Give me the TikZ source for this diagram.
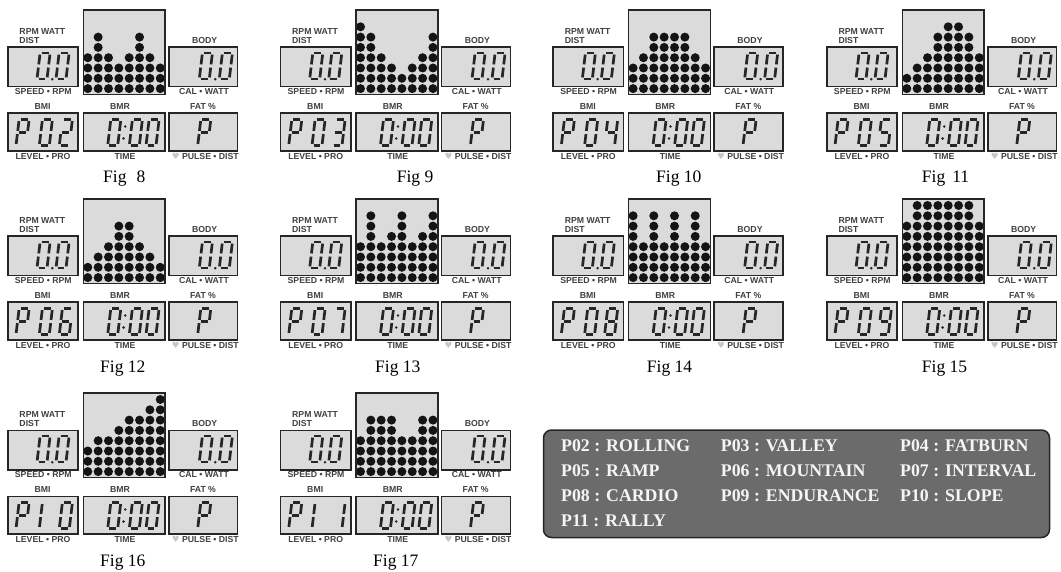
\documentclass[tikz,border=0pt]{standalone}
\usepackage{fontspec}
\setmainfont{Liberation Serif}
\newfontfamily\labfont{Liberation Sans}
\newfontfamily\symfont{DejaVu Sans}
\tikzset{
  lcd/.style={draw=black!85, line width=1.6pt, fill=black!14},
  seg/.style={line width=2.7pt, draw=black!85},
  dotm/.style={fill=black!92},
  lab/.style={font=\labfont\bfseries\fontsize{8.7}{8.7}\selectfont, text=black!75, inner sep=0pt},
  figcap/.style={font=\fontsize{17.5}{17.5}\selectfont, inner sep=0pt, anchor=base west},
  leg/.style={font=\bfseries\fontsize{17.8}{17.8}\selectfont, text=black!4, inner sep=0pt, anchor=base west},
  legbox/.style={draw=black!85, line width=1.5pt, fill=black!58, rounded corners=8pt},
}
\newcommand\sgA{\draw[seg] (1.6,26)--(8.4,26);}
\newcommand\sgB{\draw[seg] (10,24.4)--(10,14.6);}
\newcommand\sgC{\draw[seg] (10,11.4)--(10,1.6);}
\newcommand\sgD{\draw[seg] (1.6,0)--(8.4,0);}
\newcommand\sgE{\draw[seg] (0,1.6)--(0,11.4);}
\newcommand\sgF{\draw[seg] (0,14.6)--(0,24.4);}
\newcommand\sgG{\draw[seg] (1.6,13)--(8.4,13);}
\newcommand\dig[3]{\begin{scope}[shift={(#1,#2)},x={(1pt,0pt)},y={(0.12pt,1pt)}]\foreach \s in {#3}{\csname sg\s\endcsname}\end{scope}}
\newcommand\panel[8]{%
\begin{scope}[shift={(#1,#2)}]
  \draw[lcd] (7.9,47.3) rectangle (78.1,86.7);
  \draw[lcd] (168.9,47.3) rectangle (237.6,86.7);
  \draw[lcd] (7.9,113.3) rectangle (78.1,151.1);
  \draw[lcd] (83.3,113.3) rectangle (165.1,151.1);
  \draw[lcd] (168.9,113.3) rectangle (237.6,151.1);
  \draw[lcd] (83.3,9.9) rectangle (165.1,94.4);
  \begin{scope}
    \clip (83.3,9.9) rectangle (165.1,94.4);
    \foreach \h [count=\i from 0] in {#4}{\foreach \j in {1,...,\h}{\fill[dotm] ({87.8+10.35*\i},{88.6-10.3*(\j-1)}) circle (4.5pt);}}
  \end{scope}
  \draw[draw=black!85, line width=1.6pt] (83.3,9.9) rectangle (165.1,94.4);
  \node[lab, anchor=west] (#3rpm) at (19.3,31.7) {RPM WATT};
  \node[lab, anchor=west] (#3dist) at (19.3,40.7) {DIST};
  \node[lab] (#3body) at (204.7,40.7) {BODY};
  \node[lab] (#3spd) at (43.3,91.4) {SPEED • RPM};
  \node[lab] (#3cal) at (204,91.4) {CAL • WATT};
  \node[lab] (#3bmi) at (42.5,106.9) {BMI};
  \node[lab] (#3bmr) at (120,106.9) {BMR};
  \node[lab] (#3fat) at (203,106.9) {FAT \%};
  \node[lab] (#3lvl) at (43,156.2) {LEVEL • PRO};
  \node[lab] (#3time) at (125,156.2) {TIME};
  \node[lab] (#3pulse) at (205.3,156.2) {{\symfont\color{black!22}♥} PULSE • DIST};
  \dig{37}{79}{A,B,C,D,E,F}\fill[black!85] (52.3,79.2) circle (1.4pt);\dig{56}{79}{A,B,C,D,E,F}
  \dig{199.3}{79}{A,B,C,D,E,F}\fill[black!85] (215.3,79.2) circle (1.4pt);\dig{219.3}{79}{A,B,C,D,E,F}
  \dig{16}{145.5}{A,B,F,G,E}\dig{39.3}{145.5}{#5}\dig{59.3}{145.5}{#6}
  \dig{107.7}{145.5}{A,B,C,D,E,F}
  \fill[black!85] (125.2,126.5) circle (1.4pt) (123.6,138.5) circle (1.4pt);
  \dig{129.3}{145.5}{A,B,C,D,E,F}\dig{146}{145.5}{A,B,C,D,E,F}
  \dig{197.7}{145.5}{A,B,F,G,E}
  \node[figcap] (#3cap) at (#7,183) {#8};
\end{scope}}
\begin{document}
\begin{tikzpicture}[x=1pt,y=-1pt]
\useasboundingbox (0,0) rectangle (1061,572);
\panel{0}{0}{fa}{4,6,4,3,4,6,4,3}{A,B,C,D,E,F}{A,B,G,E,D}{103}{Fig\hspace{10pt}8}
\panel{272.7}{0}{fb}{7,6,4,3,2,3,4,6}{A,B,C,D,E,F}{A,B,G,C,D}{124}{Fig 9}
\panel{545.3}{0}{fc}{3,4,6,6,6,6,4,3}{A,B,C,D,E,F}{F,G,B,C}{110.7}{Fig 10}
\panel{819}{0}{fd}{2,3,4,6,7,7,6,4}{A,B,C,D,E,F}{A,F,G,C,D}{102.7}{Fig\hspace{7pt}11}
\panel{0}{189}{fe}{2,3,4,6,6,4,3,2}{A,B,C,D,E,F}{A,F,G,E,C,D}{100}{Fig 12}
\panel{272.7}{189}{ff}{4,7,4,5,7,4,5,7}{A,B,C,D,E,F}{A,B,C}{102.3}{Fig 13}
\panel{545.3}{189}{fg}{7,4,7,4,7,4,7,4}{A,B,C,D,E,F}{A,B,C,D,E,F,G}{101.4}{Fig 14}
\panel{819}{189}{fh}{6,8,8,8,8,8,8,6}{A,B,C,D,E,F}{A,B,C,D,F,G}{102.7}{Fig 15}
\panel{0}{383}{fi}{3,4,4,5,6,6,7,8}{E,F}{A,B,C,D,E,F}{100}{Fig 16}
\panel{272.7}{383}{fj}{4,6,6,6,4,4,6,6}{E,F}{B,C}{100.3}{Fig 17}
\draw[legbox] (543.5,430) rectangle (1049.5,537.5);
\node[leg] (l1) at (561,451.7) {P02 : ROLLING};
\node[leg] (l2) at (720.7,451.7) {P03 : VALLEY};
\node[leg] (l3) at (900,451.7) {P04 : FATBURN};
\node[leg] (l4) at (561,476.7) {P05 : RAMP};
\node[leg] (l5) at (720.7,476.7) {P06 : MOUNTAIN};
\node[leg] (l6) at (900,476.7) {P07 : INTERVAL};
\node[leg] (l7) at (561,501.7) {P08 : CARDIO};
\node[leg] (l8) at (720.7,501.7) {P09 : ENDURANCE};
\node[leg] (l9) at (900,501.7) {P10 : SLOPE};
\node[leg] (l10) at (561,526.7) {P11 : RALLY};
\end{tikzpicture}
\end{document}
